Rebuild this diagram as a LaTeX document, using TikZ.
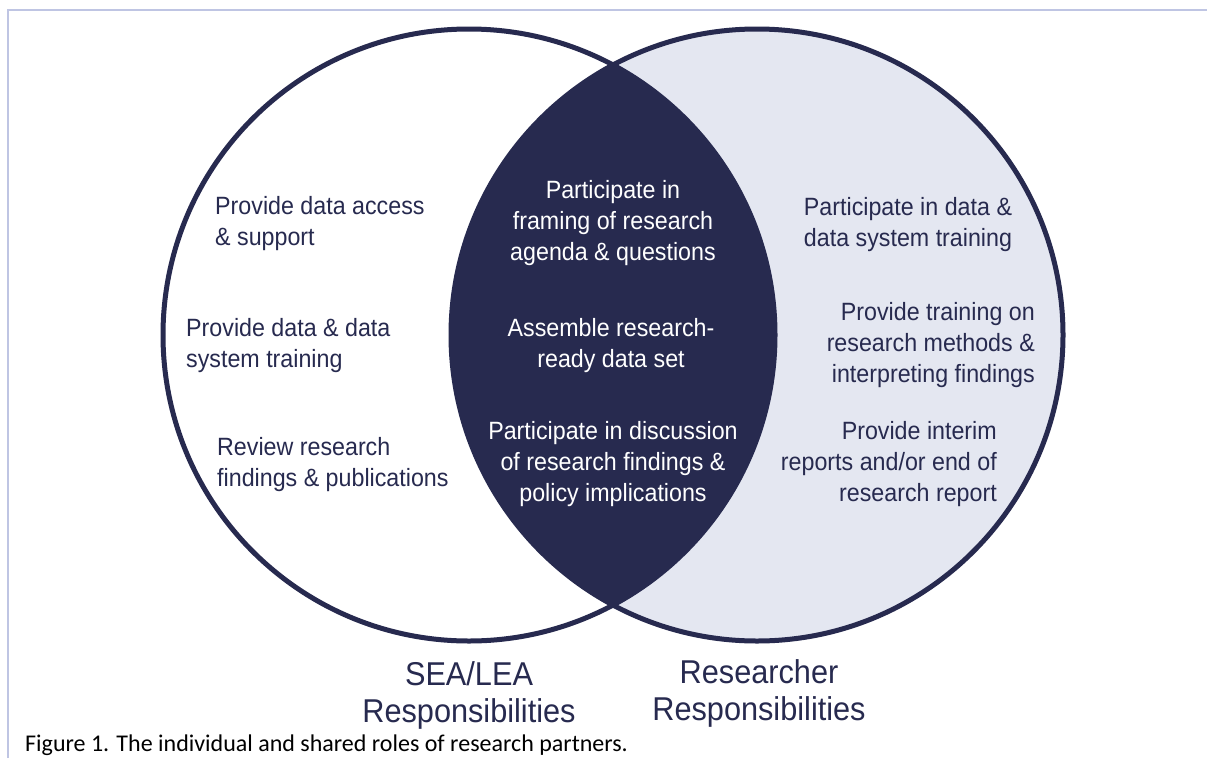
\documentclass[tikz,border=0pt]{standalone}
\usepackage{fontspec}
\setmainfont{Liberation Sans}[FakeStretch=0.93]
\newfontfamily\captionfont{Carlito}
\definecolor{navy}{HTML}{272A4F}
\definecolor{paleblue}{HTML}{E4E7F1}
\definecolor{framelilac}{HTML}{BFC5E3}
\tikzset{
  role/.style={inner sep=0pt, text=navy, font=\fontsize{25}{31}\selectfont},
  shared/.style={role, text=white, align=center},
  party/.style={inner sep=0pt, text=navy, align=center, font=\fontsize{33}{37}\selectfont}
}

\begin{document}
\begin{tikzpicture}[x=1pt, y=-1pt]
  \useasboundingbox (0,0) rectangle (1207,758);
  \fill[white] (0,0) rectangle (1207,758);
  \draw[framelilac, line width=2pt] (8,758) -- (8,10) -- (1207,10);
  % the two circles and their overlap
  \fill[paleblue] (757,335) circle (306);
  \begin{scope}
    \clip (469,335) circle (306);
    \fill[navy] (757,335) circle (306);
  \end{scope}
  \draw[navy, line width=5pt] (469,335) circle (306) (757,335) circle (306);
  % SEA/LEA side
  \path node (Sa) at (215,224) [role, anchor=west, align=left] {Provide data access\\\& support}
        node (Sb) at (186,346) [role, anchor=west, align=left] {Provide data \& data\\system training}
        node (Sc) at (217,465) [role, anchor=west, align=left] {Review research\\findings \& publications};
  % shared
  \path node (Ca) at (613,223) [shared] {Participate in\\framing of research\\agenda \& questions}
        node (Cb) at (611,346) [shared] {Assemble research-\\ready data set}
        node (Cc) at (613,464) [shared] {Participate in discussion\\of research findings \&\\policy implications};
  % researcher side
  \path node (Ra) at (908,225) [role, align=center] {Participate in data \&\\data system training}
        node (Rb) at (1035,345) [role, anchor=east, align=right] {Provide training on\\research methods \&\\interpreting findings}
        node (Rc) at (997,464) [role, anchor=east, align=right] {Provide interim\\reports and/or end of\\research report};
  % labels
  \path node (Sl) at (469,695) [party] {SEA/LEA\\Responsibilities}
        node (Rl) at (759,693) [party] {Researcher\\Responsibilities};
  \node (cap) at (25,745) [anchor=west, inner sep=0pt, font=\captionfont\fontsize{24}{27}\selectfont] {Figure 1. The individual and shared roles of research partners.};
\end{tikzpicture}
\end{document}
